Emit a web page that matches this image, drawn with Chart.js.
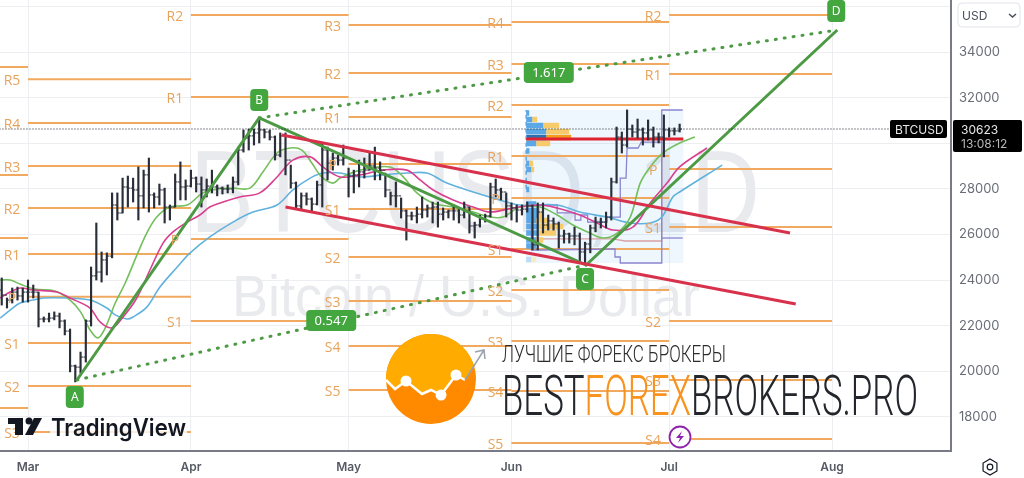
<!DOCTYPE html>
<html>
<head>
<meta charset="utf-8">
<title>BTCUSD</title>
<script src="https://cdn.jsdelivr.net/npm/chart.js@4/dist/chart.umd.js"></script>
<style>
  html, body { margin: 0; padding: 0; background: #fff; overflow: hidden; }
  canvas { display: block; }
</style>
</head>
<body>
<canvas id="myChart" width="1024" height="478"></canvas>
<script>
// x axis is days counted from 1 March
const monthTicks = [0, 31, 61, 92, 122, 153];
const monthLabels = ["Mar", "Apr", "May", "Jun", "Jul", "Aug"];
const priceTicks = [18000, 20000, 22000, 24000, 26000, 28000, 30000, 32000, 34000, 36000];
const lastPrice = 30623;

// daily bars, the first one is 5 days before 1 March
const firstBarDay = -5;
const opens = [23560,23340,23120,23470,23300,23470,23470,23470,22290,22290,22330,22420,22200,21760,20230,20180,20620,22200,24180,24350,24880,25050,27290,26940,28080,28030,27950,27690,28610,27730,27640,27950,27200,27200,28300,28080,28120,28470,28210,27950,28120,28080,28030,27990,27990,28300,29700,30230,30320,30450,30580,30490,30270,29480,30320,29260,28250,27250,27690,27550,27330,28170,29700,29130,29350,29260,29350,28560,28610,28740,28820,29000,28910,28820,27950,27690,27690,27030,26810,26810,26890,27070,27160,27200,26890,26980,27030,27030,26850,27200,26370,26410,26680,26810,28080,27950,27860,27250,27160,27070,27110,27250,25540,26980,26410,26590,26460,25930,26020,25930,25930,25230,25580,26280,26540,26540,26760,28300,30270,29920,30620,30490,30580,30450,30580,30270,30270,30580,30540,30540];
const highs = [24090,23210,23650,23690,23650,24000,23780,23470,22380,22550,22600,22550,22250,21850,20270,20840,22250,24570,26500,25230,25190,27820,27820,28470,28560,28470,28960,28820,29350,27820,28210,28030,27290,28650,29180,28390,28820,28520,28520,28430,28820,28170,28080,28170,28520,29830,30580,30620,30620,31110,30620,30580,30320,30450,30450,29040,28300,27820,27820,27600,28340,30010,29830,29570,29480,29920,28910,28820,29260,29350,29610,29830,29180,28690,27860,28300,27600,27070,26980,27200,27640,27290,27420,27420,27160,27070,27290,27160,27420,27200,26540,26850,26890,28250,28430,28030,27820,27380,27290,27290,27420,27290,27380,27380,26850,26720,26540,26190,26060,26320,26060,25660,26410,26760,26720,26980,28470,30710,30490,31460,30800,31060,30670,31020,30710,30450,31240,30670,30670,30840];
const lows = [22900,22770,22990,23120,23030,23030,23210,21940,22160,22160,22250,21900,21590,19970,19530,19920,20400,21980,24000,23910,24220,24970,26630,26940,27200,27420,26630,27160,26980,27160,27290,26500,26630,27200,27510,27510,28080,27860,27200,27640,27820,27690,27770,27820,27820,28170,29610,29700,29920,30010,30230,30140,29260,29400,28610,28030,27110,27110,27290,26980,27290,27200,28390,28820,29040,29040,27640,27820,28080,28470,28820,28390,28390,27640,27290,27200,26720,25750,26630,26500,26720,26760,26500,26320,26630,26720,26630,26500,26720,26060,25840,26320,26540,26760,27640,27510,26760,26630,26540,26850,26980,25320,25320,26060,26190,26190,25400,25620,25620,25540,24750,24750,25190,26110,26280,26280,26630,28250,29570,29830,30270,30230,29920,30140,29830,30010,29400,30270,30360,30490];
const closes = [23340,23120,23470,23300,23470,23470,23470,22290,22290,22330,22420,22200,21760,20230,20180,20620,22200,24180,24350,24880,25050,27290,26940,28080,28030,27950,27690,28610,27730,27640,27950,27200,27200,28300,28080,28120,28470,28210,27950,28120,28080,28030,27990,27990,28300,29700,30230,30320,30450,30580,30490,30270,29480,30320,29260,28250,27250,27690,27550,27330,28170,29700,29130,29350,29260,29350,28560,28610,28740,28820,29000,28910,28820,27950,27690,27690,27030,26810,26810,26890,27070,27160,27200,26890,26980,27030,27030,26850,27200,26370,26410,26680,26810,28080,27950,27860,27250,27160,27070,27110,27250,25540,26980,26410,26590,26460,25930,26020,25930,25930,25230,25580,26280,26540,26540,26760,28300,30270,29920,30620,30490,30580,30450,30580,30270,30270,30580,30540,30540,30620];

// moving averages
const greenDays = [-5.3,-3.4,-1.5,1.3,5.1,8,10,11.8,13.3,14.7,16.6,18.5,20.9,22.6,24.5,27,30.3,33.3,36,39,42.2,44.7,47.4,49.9,52.1,54,55.9,58,59.4,63.2,68.9,71.4,74,77,80.9,84.7,87.9,90.4,93.6,97.4,100.7,103.7,106.9,109.4,112.1,114.6,116.5,118.4,120.8,124,126.9];
const greenValues = [24000,24000,23820,23600,23520,23120,22600,21810,21460,21900,22990,23870,25190,26060,26760,27200,27290,27820,27990,28030,28030,28740,29570,29790,29700,29130,28520,28250,28470,28820,28960,28520,27820,27380,27200,26980,26760,26760,27200,27200,26850,26410,26060,25840,26060,26760,28250,28960,29570,30010,30270];
const pinkDays = [-5.3,-3.4,-1.5,1,5.5,8,11.8,13.7,16,18.1,20.7,23.2,25.7,27.6,30.3,32.7,34.6,37.1,40.3,44.1,47.4,50.4,53.7,56.1,59.4,63.2,67.6,72.1,74.6,77.1,80.9,84.7,87.9,92.3,97.4,100.7,105,108.3,111.3,115.1,118.4,121.6,124,129.2];
const pinkValues = [23210,23470,23650,23560,23470,23210,22770,22160,21900,22380,23210,24440,25620,26110,26540,26850,27200,27420,27640,27820,28520,29260,29400,28960,28520,28610,28820,28820,28390,27950,27510,27200,26980,27160,27290,27160,26850,26500,26190,26320,27380,28250,28960,29790];
const blueDays = [-5.3,-3.4,-1.5,1,2.9,7.4,11.8,15,16.6,18.8,20,22.6,25.1,28.4,30.8,34.6,39,42.8,47.4,50.4,53.7,56.1,59.4,63.2,67.6,72.1,75.9,79.7,84.7,89.8,93.6,100.7,105,110.2,114.6,118.4,120.6,122.7,124,132.1];
const blueValues = [22330,22680,22990,23120,23210,23210,23120,22770,22470,22290,22380,22810,23690,24570,25180,25890,26540,26980,27290,27950,28470,28690,28690,28520,28610,28690,28690,28250,27860,27510,27290,27290,26980,26760,26500,26500,26760,27640,27860,29040];

// monthly pivots
const pivotStarts = [-6, 0, 31, 61, 92, 122];
const pivotEnds = [0, 31, 61, 92, 122, 153];
const pivotNames = [
  ["", "", "", ""],
  ["R5", "R4", "R3", "R2", "R1", "P", "S1", "S2", "S3"],
  ["R2", "R1", "P", "S1"],
  ["R3", "R2", "R1", "P", "S1", "S2", "S3", "S4", "S5"],
  ["R4", "R3", "R2", "R1", "P", "S1", "S2", "S3", "S4", "S5"],
  ["R2", "R1", "P", "S1", "S2", "S3", "S4"]
];
const pivotLevels = [
  [33340, 28610, 25840, 18390],
  [32810, 30890, 29000, 27160, 25140, 23260, 21240, 19350, 17330],
  [35620, 32030, 25800, 22200],
  [35185, 33079, 31149, 29088, 27114, 25009, 23079, 21105, 19176],
  [35316, 33474, 31676, 29439, 27597, 25360, 23562, 21325, 19132, 16851],
  [35623, 33035, 28869, 26325, 22202, 19614, 17026]
];

// ABCD pattern and the channel
const abcdDays = [9.3, 44, 106.2, 154];
const abcdValues = [19614, 31106, 24658, 34965];
const abcdNames = ["A", "B", "C", "D"];
const abcdLabelDays = [8.9, 44, 106, 153.8];
const abcdLabelValues = [18870, 31895, 24044, 35800];
const fibNames = ["0.547", "1.617"];
const fibLabelDays = [57.7, 99.1];
const fibLabelValues = [22202, 33079];
const channelTopDays = [48.3, 145];
const channelTopValues = [30360, 26060];
const channelBottomDays = [49, 146.1];
const channelBottomValues = [27200, 22947];

// volume profile for June
const profileDays = [94.8, 124.7];
const profileRange = [24746, 31456];
const pocPrice = 30184;
const profilePrices = [31325,31040,30777,30513,30250,29987,29660,29110,28847,27970,27334,27049,26830,26610,26347,26062,25755,25492,24900];
const profileUp = [3,6,17,20,20,10,3,3,5,3,10,11,11,10,12,12,10,10,5];
const profileDown = [0,5,16,23,25,14,1,4,3,0,0,3,6,12,25,18,7,0,5];
const vahDays = [94.8,100.7,100.7,104.1,104.1,105.2,105.2,106.5,106.5,110.2,110.2,112.7,112.7,113.8,114,116.1,116.7,120.6,120.6,124.6];
const vahValues = [27290,27290,26940,26940,26630,26630,26850,26850,26540,26540,26760,26760,28470,28470,29790,29790,30050,30050,31456,31456];
const valDays = [95.8,95.8,97.5,111.3,111.7,111.7,112.7,112.7,120.6,120.6];
const valValues = [26540,25316,25316,25360,25360,25009,25009,24746,24746,30050];
const valTailDays = [120.6, 124.6];
const valTailValues = [25842, 25842];
const devPocDays = [98, 111.3, 113.6, 120.6, 120.6];
const devPocValues = [25800, 25800, 25711, 25711, 29702];

const xPerDay = 5.255;
const orange = "#f1a95f";

function zip(days, values) {
  return days.map((d, i) => ({ x: d, y: values[i] }));
}

function lineSet(days, values, color, width, extra) {
  return Object.assign({
    type: "line",
    data: zip(days, values),
    borderColor: color,
    borderWidth: width,
    pointRadius: 0,
    fill: false,
    tension: 0
  }, extra || {});
}

const barDays = highs.map((h, i) => firstBarDay + i);

// first dataset ends up on top
const datasets = [];

datasets.push(lineSet([monthTicks[0] - 6, 164], [lastPrice, lastPrice], "#131722", 1, { borderDash: [1, 2] }));
datasets.push(lineSet(channelTopDays, channelTopValues, "#d8314b", 3));
datasets.push(lineSet(channelBottomDays, channelBottomValues, "#d8314b", 3));
datasets.push(lineSet(abcdDays, abcdValues, "#4c9a44", 3));
datasets.push(lineSet([abcdDays[0], abcdDays[2]], [abcdValues[0], abcdValues[2]], "#4c9a44", 3, { borderDash: [1, 8], borderCapStyle: "round" }));
datasets.push(lineSet([abcdDays[1], abcdDays[3]], [abcdValues[1], abcdValues[3]], "#4c9a44", 3, { borderDash: [1, 8], borderCapStyle: "round" }));

// open tick to the left, close tick to the right
datasets.push({
  type: "scatter",
  data: zip(barDays, opens),
  pointStyle: "dash",
  pointRotation: 180,
  pointRadius: 2.4,
  pointBorderWidth: 1,
  pointBorderColor: "#2a2e39",
  showLine: false
});
datasets.push({
  type: "scatter",
  data: zip(barDays, closes),
  pointStyle: "dash",
  pointRotation: 0,
  pointRadius: 2.4,
  pointBorderWidth: 1,
  pointBorderColor: "#2a2e39",
  showLine: false
});
datasets.push({
  type: "bar",
  data: barDays.map((d, i) => ({ x: d, y: [lows[i], highs[i]] })),
  backgroundColor: "#2a2e39",
  barThickness: 1.5,
  grouped: false
});

datasets.push(lineSet(pinkDays, pinkValues, "#d8408f", 1.6, { tension: 0.35 }));
datasets.push(lineSet(greenDays, greenValues, "#72bf5c", 1.6, { tension: 0.35 }));
datasets.push(lineSet(blueDays, blueValues, "#62b2de", 1.6, { tension: 0.35 }));

datasets.push(lineSet(profileDays, [pocPrice, pocPrice], "#df2230", 3));
datasets.push(lineSet(vahDays, vahValues, "#8b84d0", 1.3));
datasets.push(lineSet(valDays, valValues, "#8b84d0", 1.3));
datasets.push(lineSet(valTailDays, valTailValues, "#8b84d0", 1.3));
datasets.push(lineSet(devPocDays, devPocValues, "#d9a0a6", 1.3));
datasets.push(lineSet([profileDays[0], profileDays[0]], [28000, profileRange[1]], "#5aa8e6", 1.5, { borderDash: [4, 3] }));

profilePrices.forEach((price, i) => {
  const isPoc = i === 4;
  const from = profileDays[0];
  const mid = from + profileUp[i] / xPerDay;
  const to = mid + profileDown[i] / xPerDay;
  const faded = i === profilePrices.length - 1;
  datasets.push(lineSet([from, mid], [price, price], isPoc ? "#2f6fae" : faded ? "#bcdcf5" : "#5aa8e6", 5.5));
  if (profileDown[i] > 0) {
    datasets.push(lineSet([mid, to], [price, price], isPoc ? "#f39c1f" : faded ? "#f8ecc8" : "#f7cb6b", 5.5));
  }
});

pivotLevels.forEach((levels, b) => {
  levels.forEach((level) => {
    datasets.push(lineSet([pivotStarts[b], pivotEnds[b]], [level, level], orange, 2));
  });
});

function fitText(ctx, text, left, baseline, width, yStretch) {
  ctx.save();
  const w = ctx.measureText(text).width;
  ctx.translate(left, baseline);
  ctx.scale(width / w, yStretch);
  ctx.textAlign = "left";
  ctx.textBaseline = "alphabetic";
  ctx.fillText(text, 0, 0);
  ctx.restore();
}

function roundBox(ctx, x, y, w, h, r, color) {
  ctx.beginPath();
  ctx.roundRect(x, y, w, h, r);
  ctx.fillStyle = color;
  ctx.fill();
}

const backgroundPlugin = {
  id: "background",
  beforeDatasetsDraw(chart) {
    const { ctx, scales: { x, y } } = chart;
    ctx.save();
    ctx.fillStyle = "#e9eaed";
    ctx.font = "400 116px 'Liberation Sans'";
    fitText(ctx, "BTCUSD, 1D", 190, 232, 570, 1);
    ctx.font = "400 58px 'Liberation Sans'";
    fitText(ctx, "Bitcoin / U.S. Dollar", 232, 316, 468, 1);
    // profile box
    const left = x.getPixelForValue(profileDays[0]);
    const right = x.getPixelForValue(profileDays[1]);
    const top = y.getPixelForValue(profileRange[1]);
    const bottom = y.getPixelForValue(profileRange[0]);
    ctx.fillStyle = "rgba(33,150,243,0.08)";
    ctx.fillRect(left, top, right - left, bottom - top);
    ctx.restore();
  },
  afterDatasetsDraw(chart) {
    const { ctx, scales: { x, y } } = chart;
    ctx.save();

    // pivot names sit left of each line
    ctx.font = "14px 'Open Sans'";
    ctx.fillStyle = "#e8a35b";
    ctx.textAlign = "center";
    ctx.textBaseline = "middle";
    pivotNames.forEach((names, b) => {
      names.forEach((name, i) => {
        if (!name) return;
        ctx.fillText(name, x.getPixelForValue(pivotStarts[b]) - 16, y.getPixelForValue(pivotLevels[b][i]) + 2);
      });
    });

    // pattern labels
    ctx.font = "12px 'Noto Sans'";
    abcdNames.forEach((name, i) => {
      const px = x.getPixelForValue(abcdLabelDays[i]);
      const py = y.getPixelForValue(abcdLabelValues[i]);
      roundBox(ctx, px - 9, py - 11, 18, 22, 4, "#43a63f");
      ctx.fillStyle = "#fff";
      ctx.fillText(name, px, py + 1);
    });
    ctx.font = "13px 'Noto Sans'";
    fibNames.forEach((name, i) => {
      const px = x.getPixelForValue(fibLabelDays[i]);
      const py = y.getPixelForValue(fibLabelValues[i]);
      roundBox(ctx, px - 25, py - 11, 50, 21, 4, "#43a63f");
      ctx.fillStyle = "#fff";
      ctx.fillText(name, px, py);
    });

    // last price tags
    const py = y.getPixelForValue(lastPrice);
    roundBox(ctx, 890, py - 9, 57, 18, 2, "#000");
    roundBox(ctx, 953, py - 9, 69, 32, 2, "#000");
    ctx.textAlign = "left";
    ctx.fillStyle = "#e8e8e8";
    ctx.font = "12px 'Inter'";
    ctx.fillText("BTCUSD", 895, py + 1);
    ctx.fillText(String(lastPrice), 961, py + 1);
    ctx.fillStyle = "#b8b8b8";
    ctx.fillText("13:08:12", 961, py + 15);

    drawBranding(ctx);
    ctx.restore();
  }
};

function drawBranding(ctx) {
  // orange round logo
  ctx.save();
  ctx.beginPath();
  ctx.arc(431, 379, 45, 0, Math.PI * 2);
  ctx.fillStyle = "#ff8a00";
  ctx.fill();
  ctx.clip();
  const pts = [[386, 380], [395, 389], [406, 381], [422, 394], [431, 390], [441, 395], [456, 375], [465, 380], [480, 356]];
  ctx.beginPath();
  ctx.moveTo(380, 330);
  ctx.lineTo(386, 380);
  pts.forEach((p) => ctx.lineTo(p[0], p[1]));
  ctx.lineTo(480, 330);
  ctx.closePath();
  ctx.fillStyle = "#ffab00";
  ctx.fill();
  ctx.restore();

  ctx.beginPath();
  [[386, 380], [395, 389], [406, 381], [422, 394], [431, 390], [441, 395], [456, 375], [465, 380]].forEach((p, i) => {
    if (i === 0) ctx.moveTo(p[0], p[1]);
    else ctx.lineTo(p[0], p[1]);
  });
  ctx.strokeStyle = "#fff";
  ctx.lineWidth = 2.5;
  ctx.stroke();
  [[406, 381], [441, 395], [456, 375]].forEach((p) => {
    ctx.beginPath();
    ctx.arc(p[0], p[1], 5.5, 0, Math.PI * 2);
    ctx.fillStyle = "#fff";
    ctx.fill();
  });
  ctx.beginPath();
  ctx.moveTo(465, 380);
  ctx.lineTo(484, 350);
  ctx.moveTo(475, 352);
  ctx.lineTo(484, 350);
  ctx.lineTo(485, 359);
  ctx.strokeStyle = "#9aa3ab";
  ctx.lineWidth = 1.5;
  ctx.stroke();

  // site name, squeezed to look condensed
  ctx.fillStyle = "#2b2b2b";
  ctx.font = "300 22px 'Roboto'";
  fitText(ctx, "ЛУЧШИЕ ФОРЕКС БРОКЕРЫ", 502, 362, 224, 1.05);

  ctx.font = "300 56px 'Roboto'";
  const parts = ["BEST", "FOREX", "BROKERS.PRO"];
  const colors = ["#23262b", "#f7931e", "#23262b"];
  const full = ctx.measureText(parts.join("")).width;
  let left = 502;
  parts.forEach((part, i) => {
    const w = (ctx.measureText(part).width / full) * 416;
    ctx.fillStyle = colors[i];
    fitText(ctx, part, left, 415, w, 1);
    left += w;
  });

  // TradingView mark
  ctx.fillStyle = "#131722";
  ctx.fillRect(8, 418, 15, 6);
  ctx.fillRect(15, 418, 8, 17);
  ctx.beginPath();
  ctx.arc(29, 421, 3.5, 0, Math.PI * 2);
  ctx.fill();
  ctx.beginPath();
  ctx.moveTo(34, 418);
  ctx.lineTo(42, 418);
  ctx.lineTo(33, 435);
  ctx.lineTo(25, 435);
  ctx.closePath();
  ctx.fill();
  ctx.font = "600 24px 'Inter'";
  ctx.textAlign = "left";
  ctx.textBaseline = "alphabetic";
  ctx.fillStyle = "rgba(255,255,255,0.8)";
  ctx.fillRect(50, 418, 137, 22);
  ctx.fillStyle = "#131722";
  fitText(ctx, "TradingView", 51, 436, 135, 1);

  // lightning badge
  ctx.beginPath();
  ctx.arc(680, 437, 10.5, 0, Math.PI * 2);
  ctx.fillStyle = "#fff";
  ctx.fill();
  ctx.strokeStyle = "#8e24aa";
  ctx.lineWidth = 1.8;
  ctx.stroke();
  ctx.beginPath();
  ctx.moveTo(682, 431);
  ctx.lineTo(676, 438);
  ctx.lineTo(680, 438);
  ctx.lineTo(678, 443);
  ctx.lineTo(684, 436);
  ctx.lineTo(680, 436);
  ctx.closePath();
  ctx.fillStyle = "#8e24aa";
  ctx.fill();

  // currency box
  ctx.beginPath();
  ctx.roundRect(958, 3, 62, 24, 4);
  ctx.strokeStyle = "#e0e3eb";
  ctx.lineWidth = 1;
  ctx.stroke();
  ctx.fillStyle = "#4a4e59";
  ctx.font = "12px 'Inter'";
  ctx.textBaseline = "middle";
  ctx.fillText("USD", 962, 16);
  ctx.beginPath();
  ctx.moveTo(1009, 14);
  ctx.lineTo(1012.5, 17);
  ctx.lineTo(1016, 14);
  ctx.strokeStyle = "#4a4e59";
  ctx.lineWidth = 1.5;
  ctx.stroke();

  // settings gear
  ctx.beginPath();
  for (let a = 0; a < 6; a++) {
    const px = 990 + 8 * Math.cos((Math.PI / 3) * a + Math.PI / 6);
    const py = 467 + 8 * Math.sin((Math.PI / 3) * a + Math.PI / 6);
    if (a === 0) ctx.moveTo(px, py);
    else ctx.lineTo(px, py);
  }
  ctx.closePath();
  ctx.strokeStyle = "#131722";
  ctx.lineWidth = 1.2;
  ctx.stroke();
  ctx.beginPath();
  ctx.arc(990, 467, 2.8, 0, Math.PI * 2);
  ctx.stroke();
}

new Chart(document.getElementById("myChart").getContext("2d"), {
  type: "bar",
  data: { datasets },
  plugins: [backgroundPlugin],
  options: {
    responsive: false,
    animation: false,
    events: [],
    layout: { padding: 0, autoPadding: false },
    plugins: { legend: { display: false }, tooltip: { enabled: false } },
    scales: {
      x: {
        type: "linear",
        offset: false,
        min: -5.33,
        max: 175.64,
        afterBuildTicks(scale) {
          scale.ticks = monthTicks.map((v) => ({ value: v }));
        },
        afterFit(scale) {
          scale.height = 27;
        },
        grid: { offset: false, color: "#eceef2", drawTicks: false },
        border: { color: "#787b86", width: 2 },
        ticks: {
          autoSkip: false,
          maxRotation: 0,
          padding: 9,
          color: "#565a64",
          font: { family: "'Inter'", size: 12, weight: "600" },
          callback: (v) => monthLabels[monthTicks.indexOf(v)]
        }
      },
      y: {
        type: "linear",
        position: "right",
        min: 16500,
        max: 36281,
        afterBuildTicks(scale) {
          scale.ticks = priceTicks.map((v) => ({ value: v }));
        },
        afterFit(scale) {
          scale.width = 73;
          // the label half height would push the plot down from the canvas top
          scale.paddingTop = 0;
          scale.paddingBottom = 0;
          scale._margins.top = 0;
          scale._margins.bottom = 0;
        },
        grid: { color: "#eceef2", drawTicks: false },
        border: { color: "#787b86", width: 2 },
        ticks: {
          padding: 8,
          color: "#6a6d78",
          font: { family: "'Inter'", size: 13 },
          callback: (v) => (v === 36000 ? "" : String(v))
        }
      }
    }
  }
});
</script>
</body>
</html>
